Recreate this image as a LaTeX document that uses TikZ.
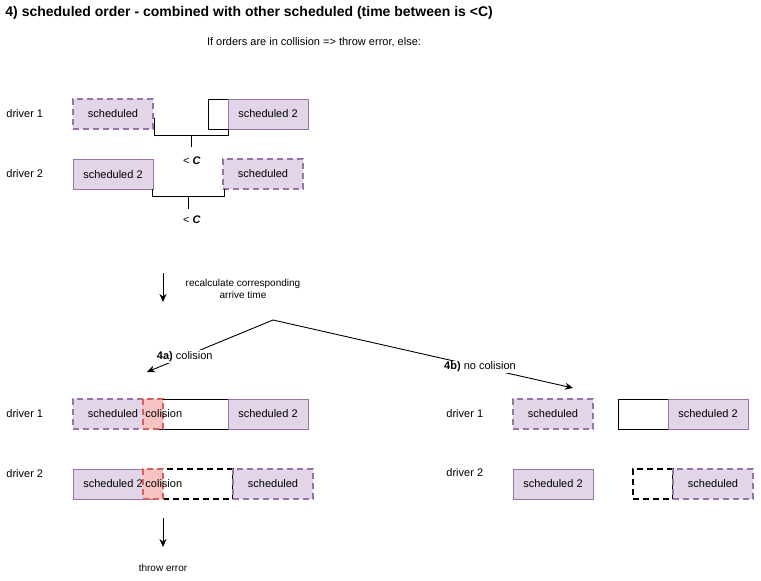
\documentclass[tikz,border=0pt]{standalone}
\usepackage{fontspec}
\setmainfont{Liberation Sans}
\usetikzlibrary{arrows.meta}
\definecolor{purfill}{HTML}{E1D5E7}
\definecolor{purline}{HTML}{9673A6}
\definecolor{redfill}{HTML}{F6C3C1}
\definecolor{redline}{HTML}{D8605C}
\tikzset{
  txt/.style={font=\fontsize{11}{13}\selectfont,inner sep=1pt},
  small/.style={font=\fontsize{10}{12}\selectfont,inner sep=1pt},
  box/.style={txt,draw=purline,fill=purfill,minimum width=80pt,minimum height=30pt,inner sep=0pt},
  dbox/.style={box,line width=1.6pt,dash pattern=on 6pt off 4pt},
  gapbox/.style={draw=black,fill=white,minimum height=30pt,inner sep=0pt},
  dgapbox/.style={gapbox,line width=1.6pt,dash pattern=on 6pt off 4pt},
  hitbox/.style={draw=redline,fill=redfill,line width=1.6pt,dash pattern=on 6pt off 4pt,minimum width=20pt,minimum height=30pt,inner sep=0pt},
  >={Stealth[length=8pt,width=7pt]},
}
\begin{document}
\begin{tikzpicture}[x=1pt,y=-1pt,line width=0.9pt]
        \useasboundingbox (0,0) rectangle (761,581);
        \node[anchor=west,font=\fontsize{14}{16}\selectfont\bfseries,inner sep=0pt] (title) at (5,13) {4) scheduled order - combined with other scheduled (time between is <C)};
        \node[txt] (rule) at (314,42) {If orders are in collision => throw error, else:};

        % before
        \node[txt,anchor=west] (d1) at ( 5.00,114.00) {driver 1};
        \node[txt,anchor=west] (d2) at ( 5.00,174.00) {driver 2};
        \node[dbox] (s1) at (113.00,114.00) {scheduled};
        \node[gapbox,minimum width=20pt] (g1) at (218.00,114.00) {};
        \node[box] (s2) at (268.00,114.00) {scheduled 2};
        \node[box] (s3) at (113.00,174.50) {scheduled 2};
        \node[dbox] (s4) at (263.00,174.00) {scheduled};

        \draw (154,118) -- (154,135) -- (228,135) -- (228,129);
        \draw (191,135) -- (191,147);
        \node[txt] (c1) at (192,161) {< \textbf{\textit{C}}};
        \draw (152,189) -- (152,196) -- (224,196) -- (224,189);
        \draw (188,196) -- (188,209);
        \node[txt] (c2) at (192,220) {< \textbf{\textit{C}}};

        \coordinate (a1) at (163,273);
        \coordinate (a2) at (163,302);
        \draw[->] (a1) to (a2);
        \node[small,align=center] (calc) at (243,288.5) {recalculate corresponding\\arrive time};

        \coordinate (br) at (273,320);
        \coordinate (ba) at (147,372);
        \coordinate (bb) at (573,388);
        \draw[->] (br) to node[txt,fill=white,pos=0.7] {\textbf{4a)} colision} (ba);
        \draw[->] (br) to node[txt,fill=white,pos=0.69] {\textbf{4b)} no colision} (bb);

        % 4a) collision
        \node[txt,anchor=west] (d3) at ( 5.00,414.00) {driver 1};
        \node[txt,anchor=west] (d4) at ( 5.00,474.00) {driver 2};
        \node[dbox] (p1) at (113.00,414.00) {scheduled};
        \node[gapbox,minimum width=75pt] (q1) at (190.50,414.00) {};
        \node[box] (p2) at (268.00,414.00) {scheduled 2};
        \node[hitbox] (h1) at (153.00,414.00) {};
        \node[txt,anchor=west] at (144.00,414.00) {colision};
        \node[box] (p3) at (113.00,484.00) {scheduled 2};
        \node[dgapbox,minimum width=80pt] (q2) at (193.00,484.00) {};
        \node[dbox] (p4) at (273.00,484.00) {scheduled};
        \node[hitbox] (h2) at (153.00,484.00) {};
        \node[txt,anchor=west] at (144.00,484.00) {colision};

        \coordinate (e1) at (163,518);
        \coordinate (e2) at (163,547);
        \draw[->] (e1) to (e2);
        \node[small] (err) at (163,568) {throw error};

        % 4b) no collision
        \node[txt,anchor=west] (d5) at (445.00,414.00) {driver 1};
        \node[txt,anchor=west] (d6) at (445.00,473.00) {driver 2};
        \node[dbox] (r1) at (553.00,414.00) {scheduled};
        \node[gapbox,minimum width=50pt] (t1) at (643.00,414.00) {};
        \node[box] (r2) at (708.00,414.00) {scheduled 2};
        \node[box] (r3) at (553.00,484.00) {scheduled 2};
        \node[dgapbox,minimum width=40pt] (t2) at (653.00,484.00) {};
        \node[dbox] (r4) at (713.00,484.00) {scheduled};
      \end{tikzpicture}
\end{document}
